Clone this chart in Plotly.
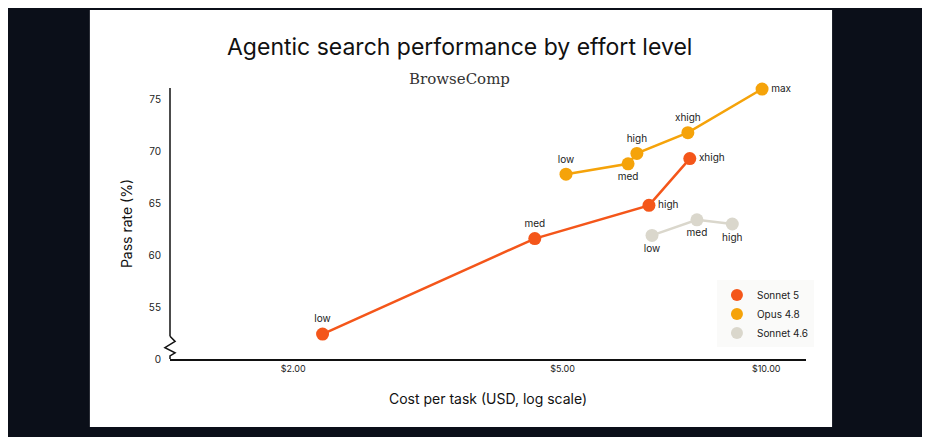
import numpy as np
import plotly.graph_objects as go

# Data
efforts_s5 = ["low", "med", "high", "xhigh"]
cost_s5 = [2.21, 4.55, 6.71, 7.71]
pass_s5 = [52.4, 61.6, 64.8, 69.3]

efforts_o48 = ["low", "med", "high", "xhigh", "max"]
cost_o48 = [5.06, 6.25, 6.44, 7.66, 9.86]
pass_o48 = [67.8, 68.8, 69.8, 71.8, 76.0]

efforts_s46 = ["low", "med", "high"]
cost_s46 = [6.78, 7.90, 8.91]
pass_s46 = [61.9, 63.4, 63.0]

x_ticks = [2, 5, 10]
x_ticklabels = ["$2.00", "$5.00", "$10.00"]
y_ticks = [50, 55, 60, 65, 70, 75]
y_ticklabels = ["0", "55", "60", "65", "70", "75"]

series = [
    ("Sonnet 5", cost_s5, pass_s5, efforts_s5, "#F4561A",
     ["top center", "top center", "middle right", "middle right"]),
    ("Opus 4.8", cost_o48, pass_o48, efforts_o48, "#F5A30A",
     ["top center", "bottom center", "top center", "top center", "middle right"]),
    ("Sonnet 4.6", cost_s46, pass_s46, efforts_s46, "#DAD7CC",
     ["bottom center", "bottom center", "bottom center"]),
]

FONT = "Inter, Lato, sans-serif"
fig = go.Figure()

for name, xs, ys, labels, color, pos in series:
    fig.add_trace(go.Scatter(
        x=xs, y=ys, mode="lines+markers+text", name=name, showlegend=False,
        line=dict(color=color, width=2.5),
        marker=dict(size=13, color=color),
        text=labels, textposition=pos,
        textfont=dict(size=10, color="#222", family=FONT),
        cliponaxis=False,
    ))

# legend entries: dots only
for name, _, _, _, color, _ in series:
    fig.add_trace(go.Scatter(x=[None], y=[None], mode="markers", name=name,
                             marker=dict(size=12, color=color)))

# white card behind the chart
fig.add_shape(type="rect", xref="paper", yref="paper",
              x0=-0.126, x1=1.041, y0=-0.251, y1=1.288,
              fillcolor="white", line=dict(width=0), layer="below")
# y axis line with break zigzag
fig.add_shape(type="line", xref="paper", yref="y", x0=0, x1=0, y0=52.2, y1=76.1,
              line=dict(color="#111", width=1.5))
fig.add_shape(type="path", xref="paper", yref="y",
              path="M 0 52.2 L 0.008 51.7 L -0.008 51.1 L 0.008 50.6 L 0 50.3 L 0 50",
              line=dict(color="#111", width=1.5))

fig.add_annotation(text="Agentic search performance by effort level", xref="paper", yref="paper",
                   x=0.455, y=1.21, showarrow=False,
                   font=dict(size=23, color="#111", family=FONT))
fig.add_annotation(text="BrowseComp", xref="paper", yref="paper",
                   x=0.455, y=1.075, showarrow=False,
                   font=dict(size=15, color="#333", family="DejaVu Serif, serif"))

fig.update_layout(
    width=922, height=429,
    paper_bgcolor="#0b0f19", plot_bgcolor="white",
    margin=dict(l=162, r=124, t=80, b=78),
    font=dict(family=FONT, color="#222"),
    xaxis=dict(type="log", range=[np.log10(1.315), np.log10(11.45)],
               tickvals=x_ticks, ticktext=x_ticklabels, tickfont=dict(size=9),
               showgrid=False, zeroline=False, showline=True, linecolor="#111", linewidth=1.5,
               title=dict(text="Cost per task (USD, log scale)", font=dict(size=14, color="#111"),
                          standoff=22)),
    yaxis=dict(range=[50, 76.1], tickvals=y_ticks, ticktext=y_ticklabels, tickfont=dict(size=10),
               showgrid=False, zeroline=False, showline=False, ticklabelstandoff=8,
               title=dict(text="Pass rate (%)", font=dict(size=14, color="#111"), standoff=12)),
    legend=dict(x=0.86, y=0.29, xanchor="left", yanchor="top", bgcolor="rgba(250,250,248,0.9)",
                font=dict(size=10, color="#222"), itemsizing="constant", tracegroupgap=0),
    showlegend=True,
)

fig.write_html("out.html")
